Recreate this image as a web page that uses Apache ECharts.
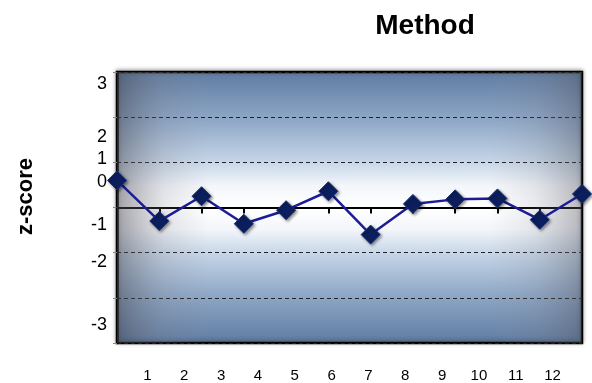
<!DOCTYPE html>
<html>
<head>
<meta charset="utf-8">
<script src="https://cdn.jsdelivr.net/npm/echarts@6/dist/echarts.min.js"></script>
<style>html,body{margin:0;padding:0;background:#fff}#c{width:592px;height:383px}</style>
</head>
<body>
<div id="c"></div>
<script>
const categories = ['1','2','3','4','5','6','7','8','9','10','11','12'];
const zScores = [0.6, -0.3, 0.25, -0.36, -0.06, 0.36, -0.6, 0.08, 0.18, 0.2, -0.27, 0.3];
const yTickLabels = ['3','2','1','0','-1','-2','-3'];
const yTickLabelAt = [2.73, 1.56, 1.07, 0.56, -0.38, -1.2, -2.6];

const chart = echarts.init(document.getElementById('c'), null, {renderer:'canvas'});
const font = 'Liberation Sans, Arial, sans-serif';
chart.setOption({
  animation: false,
  title: {
    text: 'Method', left: 420, top: 7, textAlign: 'center',
    textStyle: {fontFamily: font, fontSize: 28, fontWeight: 'bold', color: '#000'}
  },
  graphic: [{
    type: 'text', left: 15, top: 158, rotation: Math.PI/2,
    style: {text: 'z-score', font: 'bold 22px ' + font, fill: '#000'}
  }],
  grid: [
    {left: 117, right: 10, top: 72, bottom: 40, show: true, borderColor: '#000', borderWidth: 2.5,
     shadowColor: 'rgba(0,0,0,0.35)', shadowBlur: 4, shadowOffsetY: -1,
     backgroundColor: {type: 'linear', x: 0, y: 0, x2: 0, y2: 1, colorStops: [
       {offset: 0, color: '#5e7ba1'},
       {offset: 0.18, color: '#8ea7c6'},
       {offset: 0.33, color: '#c5d5e7'},
       {offset: 0.42, color: '#f3f6fa'},
       {offset: 0.5, color: '#ffffff'},
       {offset: 0.58, color: '#f3f6fa'},
       {offset: 0.67, color: '#c5d5e7'},
       {offset: 0.82, color: '#8ea7c6'},
       {offset: 1, color: '#5e7ba1'}
     ]}},
    {left: 129, right: 21, top: 72, bottom: 40, show: false}
  ],
  xAxis: [
    {type: 'category', gridIndex: 0, data: categories, boundaryGap: false,
     axisLine: {onZero: true, lineStyle: {color: '#000', width: 2}},
     axisTick: {show: true, length: 6, lineStyle: {color: '#000', width: 2}},
     axisLabel: {show: false}, splitLine: {show: false}},
    {type: 'category', gridIndex: 1, data: categories, boundaryGap: true, position: 'bottom',
     axisLine: {show: false}, axisTick: {show: false}, splitLine: {show: false},
     axisLabel: {margin: 26, fontFamily: font, fontSize: 15, color: '#000'}}
  ],
  yAxis: [
    {type: 'value', gridIndex: 0, min: -3, max: 3, interval: 1,
     axisLine: {show: true, lineStyle: {color: '#000', width: 2.5}},
     axisTick: {show: true, length: 4, lineStyle: {color: '#888', width: 1}},
     axisLabel: {show: false},
     splitLine: {show: true, lineStyle: {color: '#222', type: [4, 3], width: 1}}},
    {type: 'value', gridIndex: 0, min: -3, max: 3, position: 'left',
     axisLine: {show: false}, axisTick: {show: false}, splitLine: {show: false},
     axisLabel: {show: true, margin: 10, fontFamily: font, fontSize: 18, color: '#000',
       customValues: yTickLabelAt,
       formatter: function (v) {
         let best = 0, d = Infinity;
         yTickLabelAt.forEach(function (p, i) { if (Math.abs(p - v) < d) { d = Math.abs(p - v); best = i; } });
         return yTickLabels[best];
       }}},
    {type: 'value', gridIndex: 1, min: -3, max: 3, show: false}
  ],
  series: [{
    type: 'line', xAxisIndex: 0, yAxisIndex: 0, data: zScores,
    symbol: 'diamond', symbolSize: 19,
    lineStyle: {color: '#1c1c96', width: 2.5},
    itemStyle: {color: '#0b1f5e', borderColor: '#1c2f70', borderWidth: 1,
      shadowColor: 'rgba(0,0,0,0.45)', shadowBlur: 3, shadowOffsetX: 1.5, shadowOffsetY: 1.5},
    z: 5,
    markArea: {
      silent: true,
      itemStyle: {color: {type: 'linear', x: 0, y: 0, x2: 1, y2: 0, colorStops: [
        {offset: 0, color: 'rgba(70,70,80,0.5)'},
        {offset: 0.1, color: 'rgba(120,120,130,0.18)'},
        {offset: 0.2, color: 'rgba(150,150,160,0)'},
        {offset: 0.8, color: 'rgba(150,150,160,0)'},
        {offset: 0.9, color: 'rgba(120,120,130,0.15)'},
        {offset: 1, color: 'rgba(80,80,90,0.4)'}
      ]}},
      data: [[{xAxis: 0, yAxis: 3}, {xAxis: 11, yAxis: -3}]]
    }
  }]
});
</script>
</body>
</html>
